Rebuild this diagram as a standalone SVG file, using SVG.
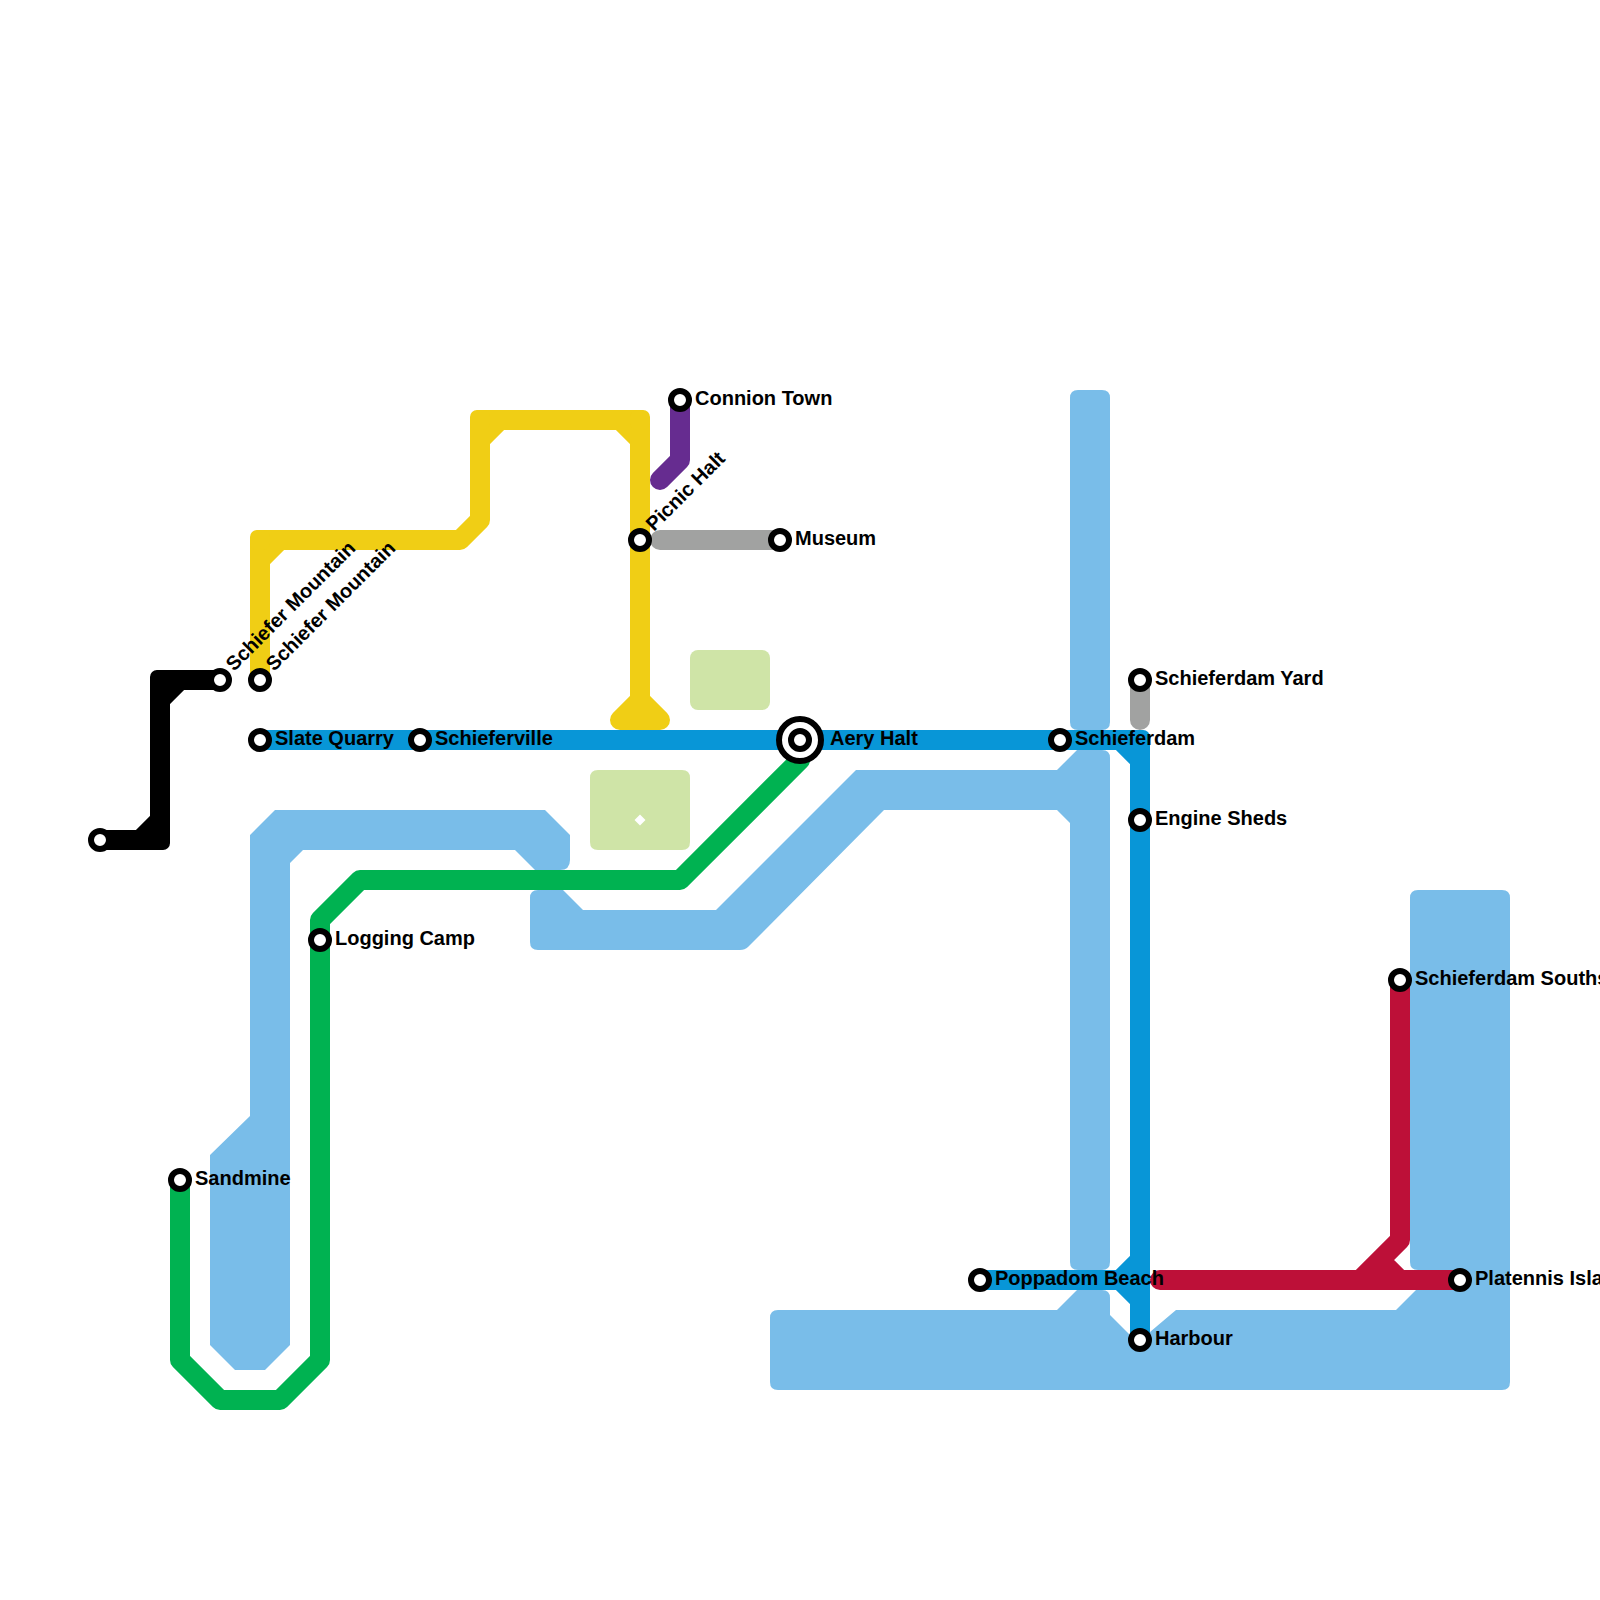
<svg xmlns="http://www.w3.org/2000/svg" width="1600" height="1600" viewBox="0 0 1600 1600">
<style>
.w{fill:#79BDE9}
.p{fill:#CFE4A7;fill-rule:evenodd}
.l{fill:none;stroke-width:20;stroke-linecap:round;stroke-linejoin:round}
.st{fill:#fff;stroke:#000;stroke-width:6}
.big{fill:#fff;stroke:#000;stroke-width:6}
.c{width:20px;height:20px;rx:7px}
text{font-family:"Liberation Sans",Arial,sans-serif;font-weight:bold;font-size:20px;fill:#000}
</style>
<rect width="1600" height="1600" fill="#fff"/>
<g id="water">
<path class="w" d="M1078 390H1102Q1110 390 1110 398V722Q1110 730 1102 730H1078Q1070 730 1070 722V398Q1070 390 1078 390Z"/>
<path class="w" d="M538 890H563L583 910H716L856 770H1057L1077 750H1102Q1110 750 1110 758V1262Q1110 1270 1102 1270H1078Q1070 1270 1070 1262V823L1057 810H884L748 947Q745 950 740 950H538Q530 950 530 942V898Q530 890 538 890Z"/>
<path class="w" d="M250 835L275 810H545L570 835V860Q570 870 560 870H535L515 850H303L290 863V1345L265 1370H235L210 1345V1155L250 1116Z"/>
<path class="w" d="M1418 890H1502Q1510 890 1510 898V1382Q1510 1390 1502 1390H778Q770 1390 770 1382V1318Q770 1310 778 1310H1057L1077 1290H1102Q1110 1290 1110 1298V1315L1135 1340L1150 1332L1176 1310H1396L1416 1290H1430V1270H1418Q1410 1270 1410 1262V898Q1410 890 1418 890Z"/>
</g>
<g id="parks">
<path class="p" d="M598 770H682Q690 770 690 778V842Q690 850 682 850H598Q590 850 590 842V778Q590 770 598 770ZM640 814.500L634.500 820L640 825.500L645.500 820Z"/>
<rect class="p" x="690" y="650" width="80" height="60" rx="8"/>
</g>
<g id="connectors">
<path class="l" stroke="#F0CE15" d="M260 680V540H460L480 520V420H640V700M260 560L280 540M480 440L500 420M620 420L640 440M640 700L620 720H660Z"/>
<rect class="c" x="250" y="530" fill="#F0CE15"/><rect class="c" x="470" y="410" fill="#F0CE15"/><rect class="c" x="630" y="410" fill="#F0CE15"/>
<path class="l" stroke="#000" d="M100 840H160V680H220M140 840L160 820M160 700L180 680"/>
<rect class="c" x="150" y="830" fill="#000"/><rect class="c" x="150" y="670" fill="#000"/>
<path class="l" stroke="#0896D7" d="M260 740H1140V1340M980 1280H1140M1120 740L1140 760M1120 1280L1140 1260M1120 1280L1140 1300"/>
<rect class="c" x="1130" y="730" fill="#0896D7"/>
<path class="l" stroke="#00B251" d="M180 1180V1360L220 1400H280L320 1360V920L360 880H680L800 760"/>
<path class="l" stroke="#A1A2A1" d="M660 540H780M1140 680V720"/>
<path class="l" stroke="#662C90" d="M680 400V460L660 480"/>
<path class="l" stroke="#BD1038" d="M1160 1280H1460M1400 980V1240L1360 1280M1380 1260L1400 1280"/>
</g>
<g id="s-seaside"><circle class="st" cx="100" cy="840" r="9"/></g>
<g id="s-schiefer-mountain-1"><circle class="st" cx="220" cy="680" r="9"/><text transform="translate(234 672) rotate(-45)">Schiefer Mountain</text></g>
<g id="s-schiefer-mountain-2"><circle class="st" cx="260" cy="680" r="9"/><text transform="translate(274 672) rotate(-45)">Schiefer Mountain</text></g>
<g id="s-slate-quarry"><circle class="st" cx="260" cy="740" r="9"/><text x="275" y="745">Slate Quarry</text></g>
<g id="s-schieferville"><circle class="st" cx="420" cy="740" r="9"/><text x="435" y="745">Schieferville</text></g>
<g id="s-picnic-halt"><circle class="st" cx="640" cy="540" r="9"/><text transform="translate(654 532) rotate(-45)">Picnic Halt</text></g>
<g id="s-connion-town"><circle class="st" cx="680" cy="400" r="9"/><text x="695" y="405">Connion Town</text></g>
<g id="s-museum"><circle class="st" cx="780" cy="540" r="9"/><text x="795" y="545">Museum</text></g>
<g id="s-aery-halt"><circle class="big" cx="800" cy="740" r="21"/><circle class="st" cx="800" cy="740" r="9"/><text x="830" y="745">Aery Halt</text></g>
<g id="s-schieferdam"><circle class="st" cx="1060" cy="740" r="9"/><text x="1075" y="745">Schieferdam</text></g>
<g id="s-schieferdam-yard"><circle class="st" cx="1140" cy="680" r="9"/><text x="1155" y="685">Schieferdam Yard</text></g>
<g id="s-engine-sheds"><circle class="st" cx="1140" cy="820" r="9"/><text x="1155" y="825">Engine Sheds</text></g>
<g id="s-logging-camp"><circle class="st" cx="320" cy="940" r="9"/><text x="335" y="945">Logging Camp</text></g>
<g id="s-sandmine"><circle class="st" cx="180" cy="1180" r="9"/><text x="195" y="1185">Sandmine</text></g>
<g id="s-poppadom-beach"><circle class="st" cx="980" cy="1280" r="9"/><text x="995" y="1285">Poppadom Beach</text></g>
<g id="s-harbour"><circle class="st" cx="1140" cy="1340" r="9"/><text x="1155" y="1345">Harbour</text></g>
<g id="s-southside"><circle class="st" cx="1400" cy="980" r="9"/><text x="1415" y="985">Schieferdam Southside</text></g>
<g id="s-platennis"><circle class="st" cx="1460" cy="1280" r="9"/><text x="1475" y="1285">Platennis Island</text></g>
</svg>
